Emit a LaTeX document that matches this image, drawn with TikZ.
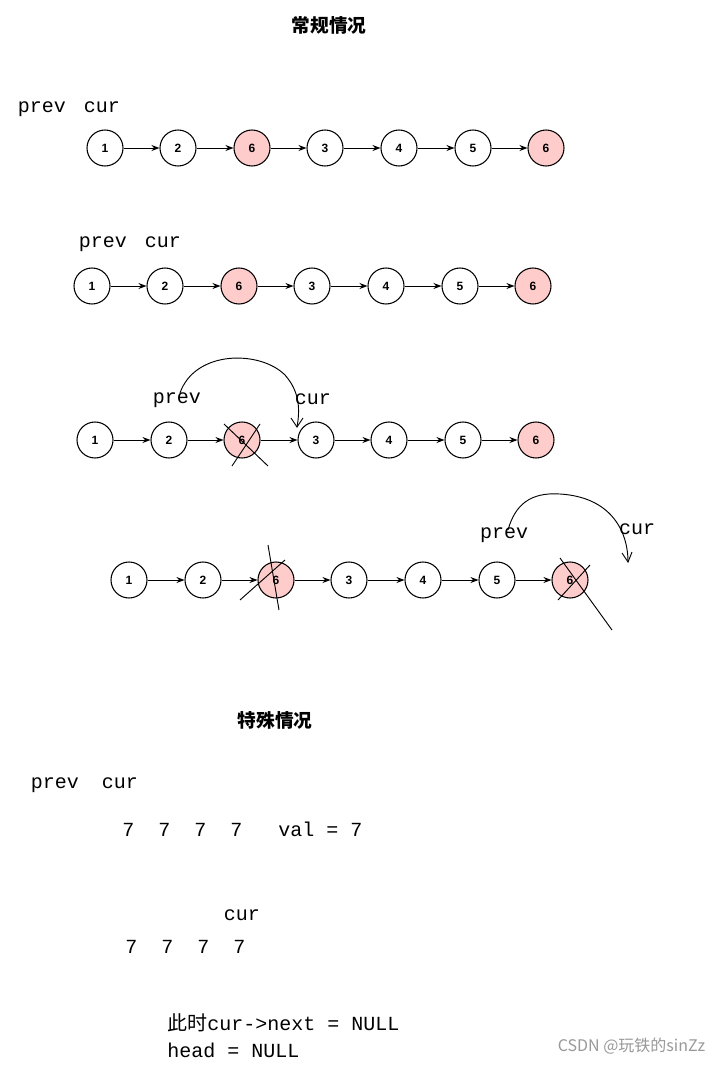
\documentclass[tikz,border=0pt]{standalone}
\usepackage{fontspec}
\setmainfont{Liberation Mono}
\newfontfamily\cjk{Noto Sans CJK SC}
\newfontfamily\sans{Liberation Sans}
\usetikzlibrary{arrows.meta}
\begin{document}
\begin{tikzpicture}[x=0.75pt,y=-0.75pt,
  nd/.style={circle,draw,line width=0.8pt,minimum size=27pt,inner sep=0pt,font=\sans\bfseries\fontsize{9}{10}\selectfont,fill=white},
  pk/.style={nd,fill=red!20},
  ar/.style={-{Stealth[length=6pt]},line width=0.7pt},
  lb/.style={font=\fontsize{15}{17}\selectfont,anchor=base,inner sep=0pt},
  hd/.style={line width=0.7pt}]
\useasboundingbox (0,0) rectangle (723,1065);
\fill[white] (0,0) rectangle (723,1065);
\node[font=\cjk\bfseries\fontsize{14}{16}\selectfont] (t1) at (329,25) {常规情况};
\foreach \r/\y/\xs in {a/148/{105,178,252,325,399,473,546},b/286/{92,165,239,312,386,460,533},c/440/{95,169,242,316,389,463,536},d/580/{129,203,276,349,423,497,570}}{
  \foreach \x [count=\i] in \xs {
    \ifnum\i=3 \node[pk] (\r\i) at (\x,\y) {6};
    \else\ifnum\i=7 \node[pk] (\r\i) at (\x,\y) {6};
    \else \node[nd] (\r\i) at (\x,\y) {\ifcase\i\or1\or2\or\or3\or4\or5\fi};\fi\fi
  }
  \foreach \i [evaluate=\i as \j using int(\i+1)] in {1,...,6} \draw[ar] (\r\i) -- (\r\j);
}
\node[lb] (p1) at (42,112) {prev}; \node[lb] (c1) at (102,112) {cur};
\node[lb] (p2) at (103,247) {prev}; \node[lb] (c2) at (163,247) {cur};
\node[lb] (p3) at (177,403) {prev}; \node[lb] (c3) at (313,404) {cur};
\node[lb] (p4) at (504,538) {prev}; \node[lb] (c4) at (637,534) {cur};
% hand drawn
\draw[hd] (180,393) .. controls (195,350) and (260,350) .. (285,375) .. controls (300,392) and (300,410) .. (297,427);
\draw[hd] (291,418) -- (297,427) -- (303,418);
\draw[hd] (224,424) -- (268,466); \draw[hd] (232,466) -- (260,424);
\draw[hd] (508,530) .. controls (515,505) and (530,492) .. (560,494) .. controls (610,497) and (628,530) .. (628,562);
\draw[hd] (622,553) -- (628,562) -- (632,552);
\draw[hd] (268,545) -- (279,610); \draw[hd] (240,600) -- (285,560);
\draw[hd] (560,558) -- (612,630); \draw[hd] (558,600) -- (590,565);
\node[font=\cjk\bfseries\fontsize{14}{16}\selectfont] (t2) at (275,720) {特殊情况};
\node[lb] (p5) at (55,788) {prev}; \node[lb] (c5) at (120,788) {cur};
\node[lb,anchor=base west] (s1) at (122,836) {7\ \ 7\ \ 7\ \ 7\ \ \ val = 7};
\node[lb] (c6) at (242,920) {cur};
\node[lb,anchor=base west] (s2) at (125,953) {7\ \ 7\ \ 7\ \ 7};
\node[lb,anchor=base west] (s3) at (167,1030) {{\cjk 此时}cur->next = NULL};
\node[lb,anchor=base west] (s4) at (167,1057) {head = NULL};
\node[font=\cjk\fontsize{12}{14}\selectfont,text=gray!80,anchor=east] (w) at (710,1046) {CSDN @玩铁的sinZz};
\end{tikzpicture}
\end{document}
